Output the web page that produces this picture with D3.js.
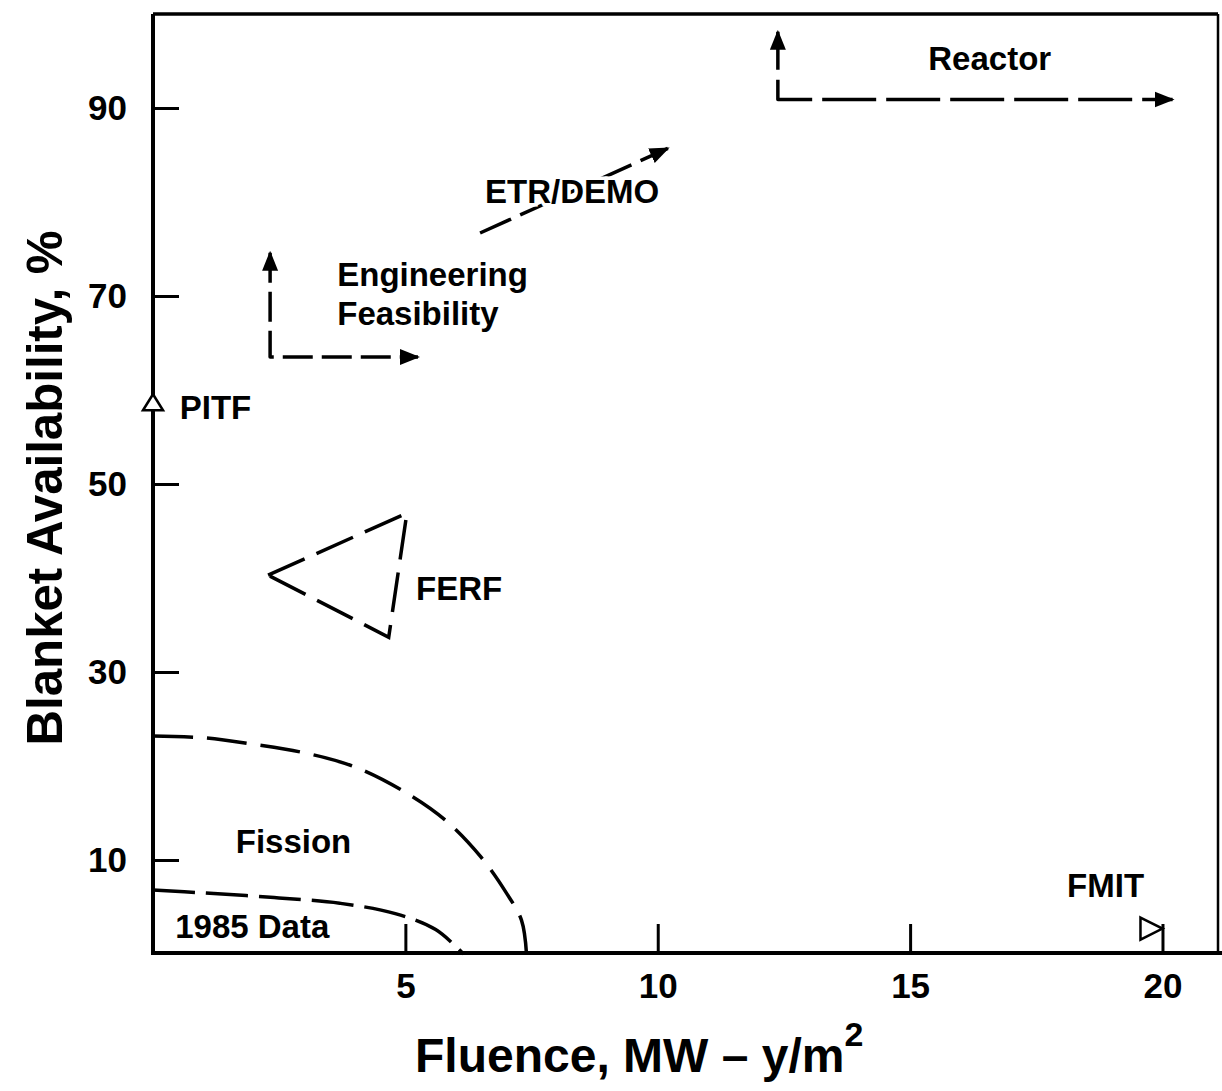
<!DOCTYPE html>
<html>
<head>
<meta charset="utf-8">
<script src="https://cdn.jsdelivr.net/npm/d3@7"></script>
<style>
  html, body { margin: 0; padding: 0; background: #fff; }
  svg { display: block; }
  text { font-family: "Liberation Sans", Arial, Helvetica, sans-serif; font-weight: bold; fill: #000; }
</style>
</head>
<body>
<script>
// Axis ticks
const fluenceTicks = [5, 10, 15, 20];
const availabilityTicks = [10, 30, 50, 70, 90];

// Fission blanket availability envelope (fluence MW-y/m2, availability %)
const fissionFluence = [0, 1, 2, 3, 4, 5, 5.8, 6.5, 7.0, 7.3, 7.4];
const fissionAvail   = [23.2, 23.0, 22.3, 21.4, 19.9, 17.2, 14.2, 10.3, 6.5, 3.6, 0];

// 1985 data envelope
const data1985Fluence = [0, 1, 2.4, 3.7, 4.8, 5.6, 6.15];
const data1985Avail   = [6.8, 6.5, 6.0, 5.4, 4.3, 2.6, 0];

// FERF operating region (triangle)
const ferfFluence = [2.28, 5.03, 4.67];
const ferfAvail   = [40.3, 46.9, 33.7];

// Engineering feasibility goal (L-shaped arrow)
const feasFluence = [2.32, 2.32, 5.25];
const feasAvail   = [74.6, 63.5, 63.5];

// ETR/DEMO trajectory
const etrFluence = [6.48, 10.2];
const etrAvail   = [76.7, 85.7];

// Reactor goal (L-shaped arrow)
const reactorFluence = [12.38, 12.38, 20.2];
const reactorAvail   = [98.1, 90.9, 90.9];

// Facility points
const pitfPoint = [0, 58.7];
const fmitPoint = [20, 2.7];

// Region / facility labels
const labelNames    = ["Reactor", "ETR/DEMO", "Engineering", "Feasibility", "PITF", "FERF", "Fission", "1985 Data", "FMIT"];
const labelFluence  = [15.36, 6.58, 3.65, 3.65, 0.53, 5.21, 1.64, 0.44, 18.11];
const labelAvail    = [94.0, 79.9, 71.1, 66.9, 56.9, 37.7, 10.7, 1.7, 6.1];

const W = 1222, H = 1091;
const svg = d3.select("body").append("svg").attr("width", W).attr("height", H);

const x = d3.scaleLinear().domain([0, 21.1]).range([153, 1218]);
const y = d3.scaleLinear().domain([0, 100]).range([954, 14]);

const zip = (xs, ys) => xs.map((v, i) => [v, ys[i]]);
const line = d3.line().x(d => x(d[0])).y(d => y(d[1]));
const smooth = d3.line().x(d => x(d[0])).y(d => y(d[1])).curve(d3.curveCatmullRom.alpha(0.5));

// Arrowhead marker
const defs = svg.append("defs");
defs.append("marker")
  .attr("id", "head")
  .attr("viewBox", "0 -9 20 18")
  .attr("refX", 18).attr("refY", 0)
  .attr("markerWidth", 20).attr("markerHeight", 18)
  .attr("markerUnits", "userSpaceOnUse")
  .attr("orient", "auto-start-reverse")
  .append("path").attr("d", "M0,-8L20,0L0,8Z").attr("fill", "#000");

// Frame
const frame = svg.append("g").attr("fill", "none").attr("stroke", "#000");
frame.append("line").attr("x1", x(0)).attr("x2", x(0)).attr("y1", y(100)).attr("y2", y(0) + 1).attr("stroke-width", 4);
frame.append("line").attr("x1", x(0)).attr("x2", x.range()[1]).attr("y1", y(100)).attr("y2", y(100)).attr("stroke-width", 3.5);
frame.append("line").attr("x1", x.range()[1]).attr("x2", x.range()[1]).attr("y1", y(100)).attr("y2", y(0)).attr("stroke-width", 2.5);
frame.append("line").attr("x1", x(0) - 2).attr("x2", W).attr("y1", y(0) - 1).attr("y2", y(0) - 1).attr("stroke-width", 4);

// Axes with inward ticks
const xAxis = svg.append("g").attr("transform", `translate(0,${y(0) - 1})`)
  .call(d3.axisBottom(x).tickValues(fluenceTicks).tickSize(-29).tickPadding(20).tickFormat(d3.format("d")));
const yAxis = svg.append("g").attr("transform", `translate(${x(0)},0)`)
  .call(d3.axisLeft(y).tickValues(availabilityTicks).tickSize(-26).tickPadding(26).tickFormat(d3.format("d")));
[xAxis, yAxis].forEach(g => {
  g.select(".domain").remove();
  g.selectAll(".tick line").attr("stroke", "#000").attr("stroke-width", 3);
  g.selectAll(".tick text").attr("fill", "#000")
    .style("font-size", "35px").style("font-family", "'Liberation Sans', Arial, sans-serif").style("font-weight", "bold");
});

// Axis titles
svg.append("text")
  .attr("x", 415).attr("y", 1072)
  .style("font-size", "48px")
  .text("Fluence, MW \u2013 y/m")
  .append("tspan").attr("dy", -26).style("font-size", "34px").text("2");

svg.append("text")
  .attr("transform", "translate(62,488) rotate(-90)")
  .attr("text-anchor", "middle")
  .attr("textLength", 515).attr("lengthAdjust", "spacingAndGlyphs")
  .style("font-size", "50px").style("font-weight", "bold")
  .text("Blanket Availability, %");

// Dashed curves and regions
const dashed = svg.append("g").attr("fill", "none").attr("stroke", "#000").attr("stroke-width", 3.5);
dashed.append("path").attr("d", smooth(zip(fissionFluence, fissionAvail))).attr("stroke-dasharray", "40,14");
dashed.append("path").attr("d", smooth(zip(data1985Fluence, data1985Avail))).attr("stroke-dasharray", "42,11");
dashed.append("path").attr("d", line(zip(ferfFluence, ferfAvail).concat([[ferfFluence[0], ferfAvail[0]]])))
  .attr("stroke-dasharray", "40,13");

// Goal arrows
dashed.append("path").attr("d", line(zip(feasFluence, feasAvail)))
  .attr("stroke-dasharray", "30,9").attr("stroke-linejoin", "round")
  .attr("marker-start", "url(#head)").attr("marker-end", "url(#head)");
dashed.append("path").attr("d", line(zip(reactorFluence, reactorAvail)))
  .attr("stroke-dasharray", "38,10,54,10,54,10,54,10,54,10,54,10,54,10,54,10")
  .attr("stroke-linejoin", "round")
  .attr("marker-start", "url(#head)").attr("marker-end", "url(#head)");
dashed.append("path").attr("d", line(zip(etrFluence, etrAvail)))
  .attr("stroke-dasharray", "34,10")
  .attr("marker-end", "url(#head)");

// Facility markers: PITF (open triangle up), FMIT (open triangle right)
const pts = svg.append("g").attr("fill", "#fff").attr("stroke", "#000").attr("stroke-width", 2.5);
{
  const px = x(pitfPoint[0]), py = y(pitfPoint[1]);
  pts.append("path").attr("d", `M${px - 10},${py + 8}L${px},${py - 8}L${px + 10},${py + 8}Z`);
  const fx = x(fmitPoint[0]), fy = y(fmitPoint[1]);
  pts.append("path").attr("d", `M${fx - 22},${fy - 11}L${fx},${fy}L${fx - 22},${fy + 11}Z`);
}

// Labels
svg.append("g").selectAll("text")
  .data(labelNames)
  .join("text")
  .attr("x", (d, i) => x(labelFluence[i]))
  .attr("y", (d, i) => y(labelAvail[i]))
  .style("font-size", "33px")
  .attr("stroke", "#fff").attr("stroke-width", 7).attr("paint-order", "stroke")
  .text(d => d);
</script>
</body>
</html>
